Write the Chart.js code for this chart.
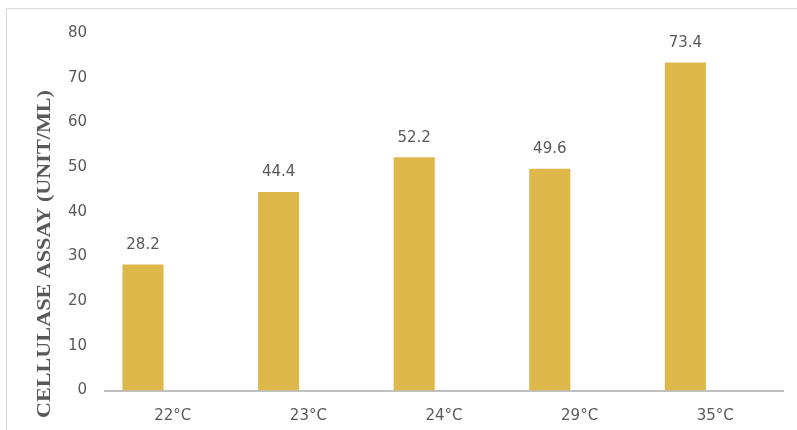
<!DOCTYPE html>
<html>
<head>
<meta charset="utf-8">
<script src="https://cdn.jsdelivr.net/npm/chart.js@4"></script>
<style>
  html, body { margin: 0; padding: 0; background: #fff; }
  #wrap { position: relative; width: 797px; height: 430px; overflow: hidden; }
  #frame { position: absolute; left: 6px; top: 8px; width: 900px; height: 600px; border: 1px solid #D9D9D9; box-sizing: border-box; }
  canvas { position: absolute; left: 0; top: 0; }
</style>
</head>
<body>
<div id="wrap">
  <div id="frame"></div>
  <canvas id="c" width="797" height="430"></canvas>
</div>
<script>
const categories = ['22°C', '23°C', '24°C', '29°C', '35°C'];
const cellulase = [28.2, 44.4, 52.2, 49.6, 73.4];
const emptySeries = [null, null, null, null, null];
const yTitle = 'CELLULASE ASSAY (UNIT/ML)';
const yMin = 0, yMax = 80, yStep = 10;

const textColor = '#595959';
const tickFont = { family: 'DejaVu Sans', size: 15 };

const labelPlugin = {
  id: 'valueLabels',
  afterDatasetsDraw(chart) {
    const ctx = chart.ctx;
    const meta = chart.getDatasetMeta(0);
    ctx.save();
    ctx.fillStyle = textColor;
    ctx.font = '15px "DejaVu Sans"';
    ctx.textAlign = 'center';
    ctx.textBaseline = 'middle';
    meta.data.forEach((bar, i) => {
      ctx.fillText(cellulase[i].toFixed(1), bar.x, bar.y - 19.5);
    });
    ctx.restore();
  }
};

const titlePlugin = {
  id: 'yTitle',
  afterDraw(chart) {
    const ctx = chart.ctx;
    ctx.save();
    ctx.fillStyle = textColor;
    ctx.font = 'bold 18px "Liberation Serif"';
    const w = ctx.measureText(yTitle).width;
    const target = 328;
    ctx.translate(50, 254);
    ctx.rotate(-Math.PI / 2);
    ctx.scale(target / w, 1);
    ctx.textAlign = 'center';
    ctx.textBaseline = 'alphabetic';
    ctx.fillText(yTitle, 0, 0);
    ctx.restore();
  }
};

new Chart(document.getElementById('c'), {
  type: 'bar',
  data: {
    labels: categories,
    datasets: [
      { data: cellulase, backgroundColor: '#DFB84B', borderWidth: 0, categoryPercentage: 0.879, barPercentage: 0.69 },
      { data: emptySeries, backgroundColor: '#DFB84B', borderWidth: 0, categoryPercentage: 0.879, barPercentage: 0.69 }
    ]
  },
  options: {
    responsive: false,
    animation: false,
    devicePixelRatio: 1,
    layout: { padding: { left: 0, right: 14, top: 33, bottom: 9.5 } },
    plugins: { legend: { display: false }, tooltip: { enabled: false } },
    scales: {
      x: {
        grid: { display: false, drawTicks: false },
        border: { display: true, color: '#BFBFBF', width: 2 },
        ticks: { color: textColor, font: tickFont, padding: 17, maxRotation: 0 },
        afterFit(scale) { scale.height = 30; }
      },
      y: {
        min: yMin, max: yMax,
        grid: { display: false, drawTicks: false },
        border: { display: false },
        ticks: { stepSize: yStep, color: textColor, font: tickFont, padding: 18 },
        afterFit(scale) { scale.width = 105; }
      }
    }
  },
  plugins: [labelPlugin, titlePlugin]
});
</script>
</body>
</html>
